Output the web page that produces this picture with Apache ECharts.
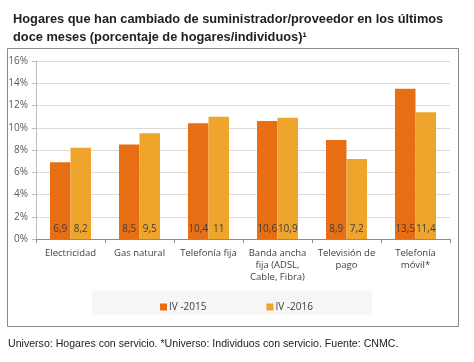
<!DOCTYPE html>
<html><head><meta charset="utf-8">
<script src="https://cdn.jsdelivr.net/npm/echarts@6/dist/echarts.min.js"></script>
<style>html,body{margin:0;padding:0;background:#fff}#c{width:474px;height:362px}</style>
</head><body><div id="c"></div>
<script>
const categories = ["Electricidad", "Gas natural", "Telefonía fija", "Banda ancha\nfija (ADSL,\nCable, Fibra)", "Televisión de\npago", "Telefonía\nmóvil*"];
const seriesNames = ["IV -2015", "IV -2016"];
const values2015 = [6.9, 8.5, 10.4, 10.6, 8.9, 13.5];
const values2016 = [8.2, 9.5, 11, 10.9, 7.2, 11.4];
const titleText = "Hogares que han cambiado de suministrador/proveedor en los últimos\ndoce meses (porcentaje de hogares/individuos)¹";
const footerText = "Universo: Hogares con servicio. *Universo: Individuos con servicio. Fuente: CNMC.";

const chart = echarts.init(document.getElementById('c'), null, {renderer: 'canvas'});
const fmt = p => String(p.value).replace('.', ',');
const labelStyle = {show: true, position: 'insideBottom', distance: 5, color: '#404040', fontSize: 10, fontFamily: 'Open Sans', formatter: fmt};
chart.setOption({
  animation: false,
  textStyle: {fontFamily: 'Open Sans'},
  title: {
    text: titleText, left: 8, top: 5,
    textStyle: {fontFamily: 'Arial', fontWeight: 'bold', fontSize: 12.8, lineHeight: 18, color: '#222'}
  },
  graphic: [
    {type: 'rect', shape: {x: 7.5, y: 48.5, width: 451, height: 278}, style: {fill: 'none', stroke: '#8a8a8a', lineWidth: 1}, z: 0},
    {type: 'rect', shape: {x: 92, y: 291, width: 280, height: 24}, style: {fill: '#f6f6f6'}, z: 0},
    {type: 'text', left: 8, top: 339, style: {text: footerText, font: '10.6px Arial', fill: '#222'}}
  ],
  legend: {
    data: seriesNames, left: 155, top: 297, itemWidth: 7, itemHeight: 7, itemGap: 60,
    icon: 'rect', textStyle: {fontSize: 10, color: '#404040', padding: [0, 0, 0, -3]}
  },
  grid: {left: 36, right: 24, top: 61, bottom: 123, containLabel: false},
  xAxis: {
    type: 'category', data: categories,
    axisLine: {lineStyle: {color: '#8c8c8c'}},
    axisTick: {show: true, length: 4, lineStyle: {color: '#8c8c8c'}},
    axisLabel: {color: '#404040', fontSize: 9.5, lineHeight: 12, margin: 8, interval: 0}
  },
  yAxis: {
    type: 'value', min: 0, max: 16, interval: 2,
    axisLine: {show: true, lineStyle: {color: '#bdbdbd'}},
    axisTick: {show: true, length: 4, lineStyle: {color: '#bdbdbd'}},
    axisLabel: {formatter: '{value}%', color: '#595959', fontSize: 10, margin: 8},
    splitLine: {lineStyle: {color: '#dedbd3'}}
  },
  series: [
    {name: seriesNames[0], type: 'bar', data: values2015, barWidth: 20.5, barGap: '0%', itemStyle: {color: '#E86E14'}, label: labelStyle},
    {name: seriesNames[1], type: 'bar', data: values2016, barWidth: 20.5, itemStyle: {color: '#EFA42C'}, label: labelStyle}
  ]
});
</script></body></html>
